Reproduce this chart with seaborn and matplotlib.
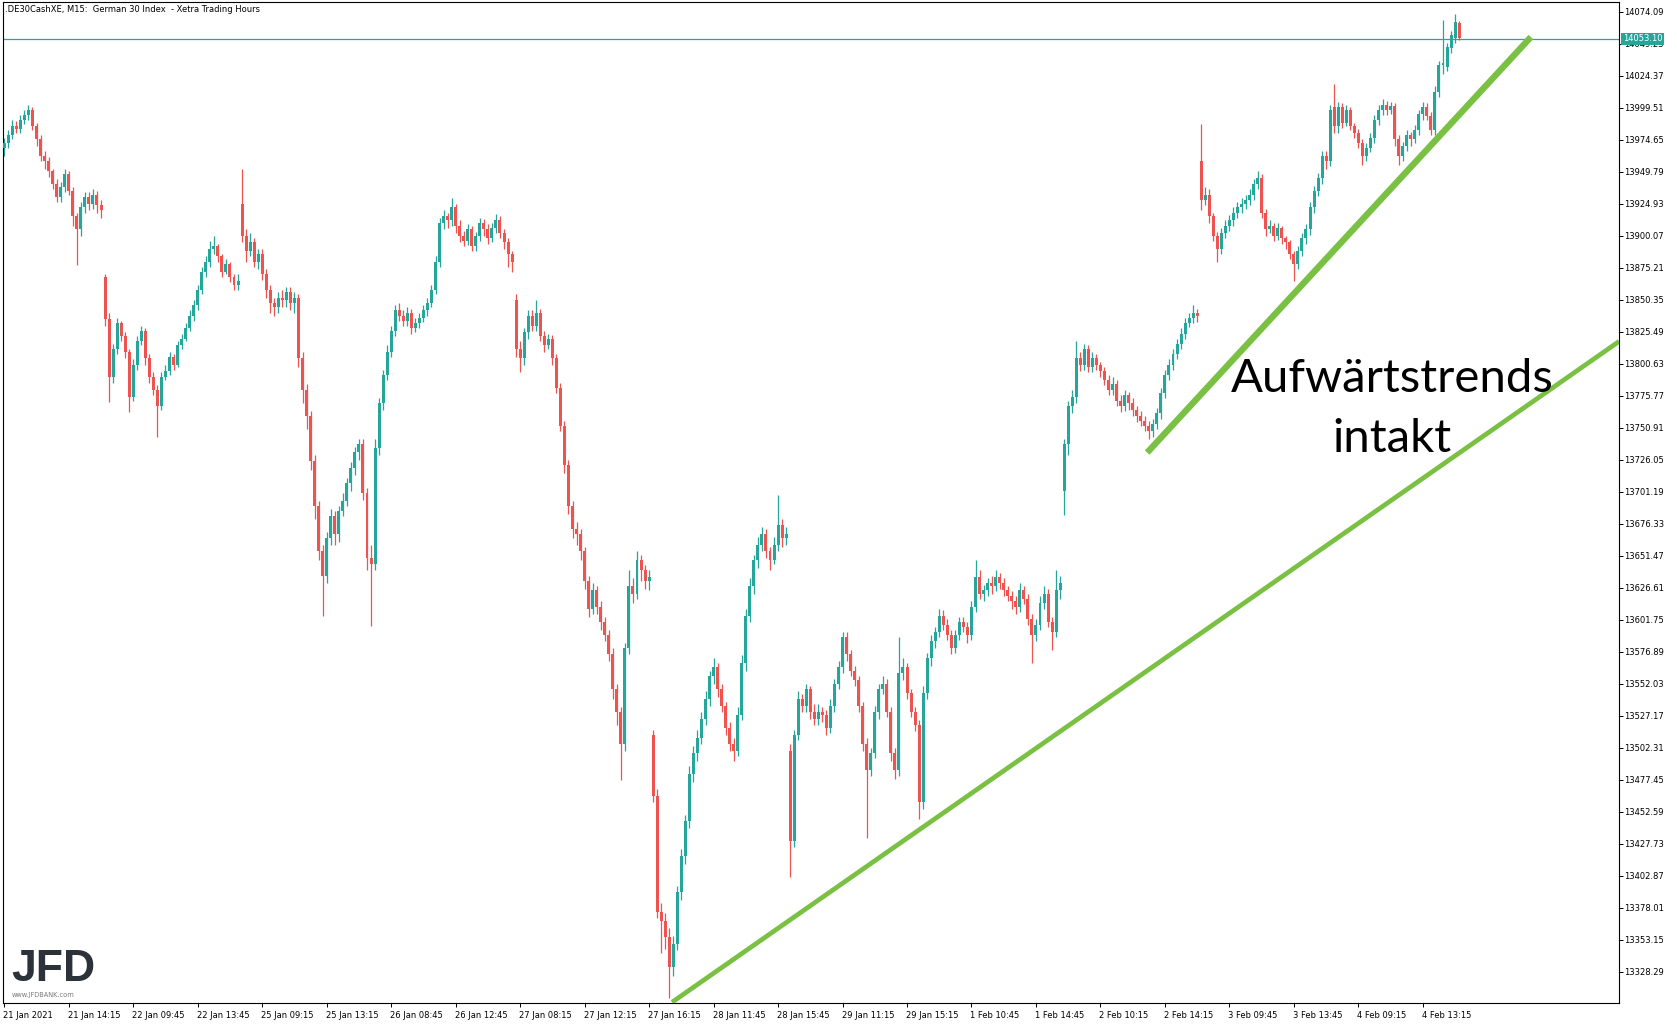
import matplotlib
matplotlib.use("Agg")
import matplotlib.pyplot as plt
import matplotlib.transforms as mtransforms
import numpy as np
import pandas as pd
import seaborn as sns

# M15 candles, 21 Jan 2021 10:15 .. 4 Feb 2021 (server time, 08:00-16:15 per day)
opens = [
    # 21 Jan
    13968, 13972, 13978, 13985, 13983, 13990, 13994, 13998, 13985, 13975, 13962, 13958, 13950, 13940, 13930, 13938,
    13948, 13935, 13915, 13905, 13922, 13930, 13925, 13932, 13924,
    # 22 Jan
    13868, 13835, 13790, 13812, 13832, 13822, 13810, 13775, 13800, 13818, 13826, 13805, 13790, 13780, 13768, 13790,
    13795, 13806, 13800, 13815, 13820, 13828, 13838, 13846, 13858, 13872, 13880, 13890, 13892, 13884, 13872, 13878,
    13868, 13862,
    # 25 Jan
    13925, 13900, 13888, 13895, 13880, 13886, 13870, 13858, 13848, 13845, 13852, 13850, 13856, 13848, 13852, 13805,
    13780, 13760, 13725, 13690, 13655, 13636, 13665, 13682, 13668, 13686, 13694, 13708, 13720, 13732, 13738, 13700,
    13650, 13645,
    # 26 Jan
    13735, 13770, 13792, 13810, 13826, 13842, 13838, 13834, 13840, 13828, 13832, 13836, 13842, 13848, 13858, 13880,
    13910, 13915, 13912, 13922, 13908, 13900, 13896, 13905, 13892, 13900, 13910, 13905, 13898, 13906, 13912, 13902,
    13895, 13886,
    # 27 Jan
    13850, 13812, 13805, 13825, 13838, 13830, 13840, 13822, 13815, 13820, 13805, 13782, 13752, 13722, 13690, 13672,
    13668, 13655, 13632, 13610, 13625, 13612, 13600, 13590, 13575, 13548, 13530, 13505, 13580, 13628, 13622, 13648,
    13640, 13632,
    # 28 Jan
    13512, 13465, 13375, 13368, 13355, 13332, 13350, 13390, 13418, 13445, 13482, 13498, 13510, 13525, 13540, 13558,
    13565, 13548, 13535, 13518, 13505, 13500, 13528, 13568, 13605, 13628, 13648, 13660, 13668, 13655, 13648, 13660,
    13675, 13665,
    # 29 Jan
    13500, 13430, 13512, 13540, 13535, 13548, 13530, 13525, 13530, 13528, 13518, 13535, 13552, 13565, 13588, 13575,
    13562, 13555, 13535, 13505, 13485, 13498, 13530, 13548, 13552, 13530, 13498, 13485, 13560, 13565, 13545, 13530,
    13520, 13460,
    # 1 Feb
    13545, 13572, 13585, 13592, 13605, 13598, 13590, 13580, 13590, 13600, 13596, 13590, 13612, 13635, 13622, 13625,
    13630, 13628, 13635, 13630, 13625, 13620, 13616, 13612, 13625, 13618, 13602, 13590, 13598, 13615, 13622, 13600,
    13592, 13625,
    # 2 Feb
    13702, 13738, 13768, 13775, 13805, 13800, 13812, 13798, 13805, 13800, 13795, 13788, 13780, 13785, 13772, 13768,
    13776, 13770, 13765, 13760, 13756, 13752, 13748, 13754, 13762, 13778, 13792, 13800, 13808, 13816, 13824, 13832,
    13836, 13840,
    # 3 Feb
    13958, 13928, 13932, 13915, 13900, 13890, 13902, 13908, 13912, 13918, 13922, 13925, 13928, 13932, 13940, 13945,
    13918, 13905, 13908, 13900, 13906, 13898, 13895, 13886, 13878, 13888, 13898, 13905, 13922, 13935, 13945, 13962,
    13958, 14000,
    # 4 Feb
    13985, 14000, 13988, 13998, 13985, 13980, 13972, 13962, 13968, 13976, 13990, 13998, 14002, 13998, 14001, 13975,
    13962, 13970, 13978, 13975, 13982, 13995, 14000, 13993, 13982, 14012, 14033, 14031, 14046, 14054, 14065,
]

highs = [
    # 21 Jan
    13976, 13982, 13990, 13989, 13994, 13998, 14002, 14000, 13988, 13978, 13966, 13961, 13952, 13944, 13942, 13952,
    13950, 13938, 13918, 13926, 13934, 13934, 13936, 13935, 13928,
    # 22 Jan
    13870, 13840, 13816, 13836, 13834, 13825, 13812, 13804, 13822, 13830, 13828, 13808, 13794, 13784, 13794, 13800,
    13810, 13808, 13818, 13824, 13832, 13842, 13850, 13862, 13876, 13884, 13896, 13900, 13894, 13886, 13882, 13880,
    13870, 13870,
    # 25 Jan
    13952, 13905, 13902, 13898, 13890, 13890, 13874, 13862, 13852, 13856, 13858, 13860, 13860, 13856, 13855, 13810,
    13785, 13764, 13730, 13694, 13660, 13670, 13688, 13686, 13690, 13700, 13712, 13724, 13736, 13742, 13742, 13704,
    13660, 13742,
    # 26 Jan
    13774, 13796, 13815, 13830, 13846, 13848, 13842, 13845, 13843, 13836, 13840, 13846, 13852, 13862, 13884, 13914,
    13920, 13918, 13929, 13925, 13912, 13904, 13909, 13908, 13903, 13914, 13913, 13909, 13910, 13917, 13915, 13905,
    13898, 13888,
    # 27 Jan
    13855, 13818, 13828, 13842, 13842, 13850, 13843, 13826, 13824, 13823, 13808, 13786, 13756, 13726, 13694, 13678,
    13672, 13658, 13636, 13630, 13628, 13616, 13604, 13594, 13580, 13552, 13534, 13584, 13640, 13634, 13655, 13652,
    13644, 13640,
    # 28 Jan
    13516, 13470, 13382, 13374, 13362, 13356, 13395, 13424, 13450, 13488, 13504, 13516, 13530, 13546, 13562, 13572,
    13568, 13552, 13538, 13522, 13510, 13534, 13574, 13610, 13634, 13652, 13666, 13674, 13672, 13658, 13666, 13699,
    13680, 13674,
    # 29 Jan
    13505, 13516, 13546, 13544, 13552, 13550, 13536, 13536, 13534, 13532, 13540, 13556, 13570, 13592, 13592, 13578,
    13566, 13558, 13538, 13510, 13502, 13535, 13552, 13558, 13556, 13534, 13502, 13588, 13572, 13568, 13548, 13534,
    13524, 13550,
    # 1 Feb
    13576, 13590, 13596, 13610, 13609, 13602, 13594, 13594, 13604, 13604, 13600, 13616, 13648, 13640, 13629, 13634,
    13636, 13640, 13638, 13634, 13628, 13624, 13620, 13630, 13628, 13622, 13606, 13602, 13620, 13628, 13626, 13604,
    13640, 13636,
    # 2 Feb
    13742, 13772, 13780, 13818, 13810, 13816, 13815, 13810, 13808, 13802, 13798, 13792, 13790, 13788, 13776, 13780,
    13779, 13774, 13768, 13764, 13760, 13756, 13758, 13766, 13782, 13796, 13804, 13812, 13820, 13828, 13836, 13840,
    13846, 13843,
    # 3 Feb
    13987, 13938, 13936, 13918, 13903, 13906, 13912, 13916, 13922, 13926, 13929, 13932, 13936, 13944, 13950, 13948,
    13921, 13912, 13910, 13910, 13908, 13900, 13897, 13888, 13892, 13902, 13909, 13926, 13939, 13949, 13966, 13966,
    14002, 14018,
    # 4 Feb
    14004, 14003, 14002, 14000, 13988, 13983, 13975, 13972, 13980, 13994, 14002, 14006, 14005, 14004, 14003, 13978,
    13973, 13982, 13981, 13986, 13998, 14004, 14003, 13996, 14016, 14036, 14068, 14050, 14059, 14072, 14067,
]

lows = [
    # 21 Jan
    13962, 13968, 13975, 13980, 13980, 13987, 13990, 13982, 13970, 13958, 13952, 13946, 13936, 13926, 13926, 13934,
    13932, 13908, 13877, 13900, 13918, 13920, 13921, 13918, 13914,
    # 22 Jan
    13830, 13771, 13786, 13808, 13818, 13805, 13763, 13772, 13796, 13815, 13800, 13786, 13776, 13744, 13765, 13788,
    13792, 13796, 13798, 13812, 13818, 13826, 13834, 13842, 13855, 13868, 13876, 13886, 13880, 13868, 13870, 13864,
    13858, 13858,
    # 25 Jan
    13895, 13880, 13884, 13876, 13874, 13866, 13852, 13840, 13838, 13840, 13845, 13845, 13842, 13840, 13798, 13770,
    13750, 13718, 13680, 13648, 13605, 13630, 13660, 13660, 13662, 13682, 13690, 13702, 13714, 13726, 13695, 13640,
    13597, 13640,
    # 26 Jan
    13730, 13765, 13788, 13806, 13822, 13834, 13830, 13830, 13824, 13825, 13828, 13833, 13838, 13845, 13855, 13876,
    13905, 13906, 13908, 13902, 13895, 13892, 13893, 13888, 13888, 13896, 13900, 13894, 13895, 13902, 13898, 13890,
    13876, 13872,
    # 27 Jan
    13806, 13794, 13800, 13820, 13826, 13826, 13818, 13810, 13812, 13800, 13778, 13748, 13716, 13684, 13665, 13660,
    13648, 13626, 13604, 13606, 13606, 13594, 13585, 13570, 13540, 13520, 13477, 13500, 13575, 13615, 13618, 13632,
    13626, 13625,
    # 28 Jan
    13460, 13370, 13343, 13346, 13308, 13325, 13345, 13384, 13412, 13440, 13476, 13492, 13505, 13520, 13535, 13552,
    13542, 13530, 13512, 13500, 13492, 13496, 13524, 13562, 13600, 13622, 13642, 13655, 13650, 13640, 13645, 13655,
    13658, 13660,
    # 29 Jan
    13402, 13425, 13508, 13530, 13530, 13525, 13520, 13520, 13522, 13512, 13514, 13530, 13548, 13560, 13570, 13558,
    13550, 13530, 13500, 13432, 13480, 13494, 13525, 13544, 13526, 13492, 13478, 13480, 13555, 13540, 13526, 13515,
    13447, 13455,
    # 1 Feb
    13540, 13566, 13580, 13588, 13594, 13586, 13575, 13576, 13586, 13592, 13584, 13586, 13608, 13618, 13616, 13620,
    13622, 13624, 13626, 13620, 13616, 13610, 13606, 13608, 13614, 13598, 13568, 13585, 13594, 13610, 13596, 13578,
    13588, 13618,
    # 2 Feb
    13683, 13730, 13762, 13770, 13795, 13796, 13794, 13794, 13796, 13790, 13784, 13776, 13776, 13768, 13763, 13764,
    13765, 13760, 13755, 13752, 13748, 13742, 13744, 13750, 13758, 13774, 13788, 13796, 13804, 13812, 13820, 13829,
    13832, 13833,
    # 3 Feb
    13920, 13924, 13910, 13896, 13880, 13886, 13898, 13904, 13908, 13914, 13918, 13921, 13924, 13928, 13936, 13914,
    13900, 13902, 13896, 13897, 13894, 13890, 13882, 13865, 13874, 13884, 13894, 13901, 13918, 13931, 13940, 13952,
    13954, 13980,
    # 4 Feb
    13980, 13984, 13985, 13982, 13976, 13968, 13955, 13958, 13965, 13972, 13986, 13994, 13994, 13995, 13970, 13955,
    13958, 13966, 13970, 13972, 13978, 13990, 13990, 13978, 13978, 14008, 14026, 14028, 14042, 14050, 14052,
]

closes = [
    # 21 Jan
    13972, 13978, 13985, 13983, 13990, 13994, 13998, 13985, 13975, 13962, 13958, 13950, 13940, 13930, 13938, 13948,
    13935, 13915, 13905, 13922, 13930, 13925, 13932, 13924, 13920,
    # 22 Jan
    13835, 13790, 13812, 13832, 13822, 13810, 13775, 13800, 13818, 13826, 13805, 13790, 13780, 13768, 13790, 13795,
    13806, 13800, 13815, 13820, 13828, 13838, 13846, 13858, 13872, 13880, 13890, 13892, 13884, 13872, 13878, 13868,
    13862, 13865,
    # 25 Jan
    13900, 13888, 13895, 13880, 13886, 13870, 13858, 13848, 13845, 13852, 13850, 13856, 13848, 13852, 13805, 13780,
    13760, 13725, 13690, 13655, 13636, 13665, 13682, 13668, 13686, 13694, 13708, 13720, 13732, 13738, 13700, 13650,
    13645, 13735,
    # 26 Jan
    13770, 13792, 13810, 13826, 13842, 13838, 13834, 13840, 13828, 13832, 13836, 13842, 13848, 13858, 13880, 13910,
    13915, 13912, 13922, 13908, 13900, 13896, 13905, 13892, 13900, 13910, 13905, 13898, 13906, 13912, 13902, 13895,
    13886, 13880,
    # 27 Jan
    13812, 13805, 13825, 13838, 13830, 13840, 13822, 13815, 13820, 13805, 13782, 13752, 13722, 13690, 13672, 13668,
    13655, 13632, 13610, 13625, 13612, 13600, 13590, 13575, 13548, 13530, 13505, 13580, 13628, 13622, 13648, 13640,
    13632, 13635,
    # 28 Jan
    13465, 13375, 13368, 13355, 13332, 13350, 13390, 13418, 13445, 13482, 13498, 13510, 13525, 13540, 13558, 13565,
    13548, 13535, 13518, 13505, 13500, 13528, 13568, 13605, 13628, 13648, 13660, 13668, 13655, 13648, 13660, 13675,
    13665, 13668,
    # 29 Jan
    13430, 13512, 13540, 13535, 13548, 13530, 13525, 13530, 13528, 13518, 13535, 13552, 13565, 13588, 13575, 13562,
    13555, 13535, 13505, 13485, 13498, 13530, 13548, 13552, 13530, 13498, 13485, 13560, 13565, 13545, 13530, 13520,
    13460, 13545,
    # 1 Feb
    13572, 13585, 13592, 13605, 13598, 13590, 13580, 13590, 13600, 13596, 13590, 13612, 13635, 13622, 13625, 13630,
    13628, 13635, 13630, 13625, 13620, 13616, 13612, 13625, 13618, 13602, 13590, 13598, 13615, 13622, 13600, 13592,
    13625, 13630,
    # 2 Feb
    13738, 13768, 13775, 13805, 13800, 13812, 13798, 13805, 13800, 13795, 13788, 13780, 13785, 13772, 13768, 13776,
    13770, 13765, 13760, 13756, 13752, 13748, 13754, 13762, 13778, 13792, 13800, 13808, 13816, 13824, 13832, 13836,
    13840, 13838,
    # 3 Feb
    13928, 13932, 13915, 13900, 13890, 13902, 13908, 13912, 13918, 13922, 13925, 13928, 13932, 13940, 13945, 13918,
    13905, 13908, 13900, 13906, 13898, 13895, 13886, 13878, 13888, 13898, 13905, 13922, 13935, 13945, 13962, 13958,
    13998, 13985,
    # 4 Feb
    14000, 13988, 13998, 13985, 13980, 13972, 13962, 13968, 13976, 13990, 13998, 14002, 13998, 14001, 13975, 13962,
    13970, 13978, 13975, 13982, 13995, 14000, 13993, 13982, 14012, 14033, 14034, 14047, 14056, 14066, 14054,
]

xtick_labels = ["21 Jan 2021", "21 Jan 14:15", "22 Jan 09:45", "22 Jan 13:45", "25 Jan 09:15", "25 Jan 13:15",
                "26 Jan 08:45", "26 Jan 12:45", "27 Jan 08:15", "27 Jan 12:15", "27 Jan 16:15", "28 Jan 11:45",
                "28 Jan 15:45", "29 Jan 11:15", "29 Jan 15:15", "1 Feb 10:45", "1 Feb 14:45", "2 Feb 10:15",
                "2 Feb 14:15", "3 Feb 09:45", "3 Feb 13:45", "4 Feb 09:15", "4 Feb 13:15"]
xtick_bars = [0, 16, 32, 48, 64, 80, 96, 112, 128, 144, 160, 176, 192, 208, 224, 240, 256, 272, 288, 304, 320,
              336, 352]

ytick_values = [14074.09, 14049.23, 14024.37, 13999.51, 13974.65, 13949.79, 13924.93, 13900.07, 13875.21,
                13850.35, 13825.49, 13800.63, 13775.77, 13750.91, 13726.05, 13701.19, 13676.33, 13651.47,
                13626.61, 13601.75, 13576.89, 13552.03, 13527.17, 13502.31, 13477.45, 13452.59, 13427.73,
                13402.87, 13378.01, 13353.15, 13328.29]

last_price = 14053.10

# trend lines: (bar, price) anchors
upper_trend_bars = [283.6, 378.8]
upper_trend_prices = [13731.6, 14054.4]
lower_trend_bars = [165.7, 400.7]
lower_trend_prices = [13304.6, 13818.0]

UP = "#26a69a"
DOWN = "#ef5350"
TREND = "#79c043"

df = pd.DataFrame({"open": opens, "high": highs, "low": lows, "close": closes})
assert len(df) == 362
df["bar"] = np.arange(len(df))
df["up"] = df["close"] >= df["open"]
df["body_lo"] = df[["open", "close"]].min(axis=1)
df["body_h"] = (df["close"] - df["open"]).abs().clip(lower=0.9)

sns.set_theme(style="white")
plt.rcParams["font.family"] = ["DejaVu Sans"]

W, H = 1677, 1024
fig = plt.figure(figsize=(W / 100, H / 100), dpi=100)
fig.patch.set_facecolor("white")
ax = fig.add_axes([3 / W, 1 - 1003 / H, (1619 - 3) / W, (1003 - 2.3) / H])
ax.set_facecolor("white")

colors = np.where(df["up"], UP, DOWN)
ax.vlines(df["bar"], df["low"], df["high"], colors=colors, linewidth=0.9, zorder=2)
ax.bar(df["bar"], df["body_h"], bottom=df["body_lo"], width=0.74, color=colors, linewidth=0, zorder=3)

ax.axhline(last_price, color=UP, linewidth=0.9, zorder=1)

sns.lineplot(x=upper_trend_bars, y=upper_trend_prices, ax=ax, color=TREND, linewidth=4.6,
             solid_capstyle="butt", zorder=4)
sns.lineplot(x=lower_trend_bars, y=lower_trend_prices, ax=ax, color=TREND, linewidth=3.4,
             solid_capstyle="butt", zorder=4)

ax.set_xlim(-0.32, 400.67)
ax.set_ylim(13304.0, 14081.4)

for s in ax.spines.values():
    s.set_visible(True)
    s.set_color("black")
    s.set_linewidth(0.8)

ax.yaxis.tick_right()
ax.set_yticks(ytick_values)
ax.set_yticklabels([f"{v:.2f}" for v in ytick_values])
ax.tick_params(axis="y", direction="out", length=3, width=0.7, pad=1, labelsize=6, colors="black",
               right=True, left=False)
ax.set_xticks(xtick_bars)
ax.set_xticklabels(xtick_labels, ha="left")
ax.tick_params(axis="x", direction="out", length=3, width=0.7, pad=2.5, labelsize=6, colors="black",
               bottom=True)
offset = mtransforms.ScaledTranslation(-1 / 100, 0, fig.dpi_scale_trans)
for lab in ax.get_xticklabels():
    lab.set_transform(lab.get_transform() + offset)
ax.set_xlabel("")
ax.set_ylabel("")
ax.grid(False)

# current price tag on the price scale
tag_tr = mtransforms.blended_transform_factory(ax.transAxes, ax.transData)
ax.text(1.0025, last_price, f"{last_price:.2f}", transform=tag_tr, ha="left", va="center", fontsize=6,
        color="white", clip_on=False, zorder=10,
        bbox=dict(boxstyle="square,pad=0.2", fc=UP, ec="none"))

fig.text(5 / W, 1 - 10 / H, ".DE30CashXE, M15:  German 30 Index  - Xetra Trading Hours",
         fontsize=6, color="black", ha="left", va="center")

fig.text(1392 / W, 1 - 392 / H, "Aufwärtstrends", fontsize=34, family=["Lato", "DejaVu Sans"],
         color="black", ha="center", va="baseline")
fig.text(1392 / W, 1 - 452 / H, "intakt", fontsize=34, family=["Lato", "DejaVu Sans"],
         color="black", ha="center", va="baseline")

# logo
fig.text(11 / W, 1 - 981 / H, "JFD", fontsize=32, fontweight="bold", family=["Liberation Sans", "DejaVu Sans"],
         color="#2b3239", ha="left", va="baseline")
fig.text(12 / W, 1 - 995 / H, "www.JFDBANK.com", fontsize=4.8, color="#7a7a7a", ha="left", va="center")

fig.savefig("out.png", dpi=100, facecolor="white")
